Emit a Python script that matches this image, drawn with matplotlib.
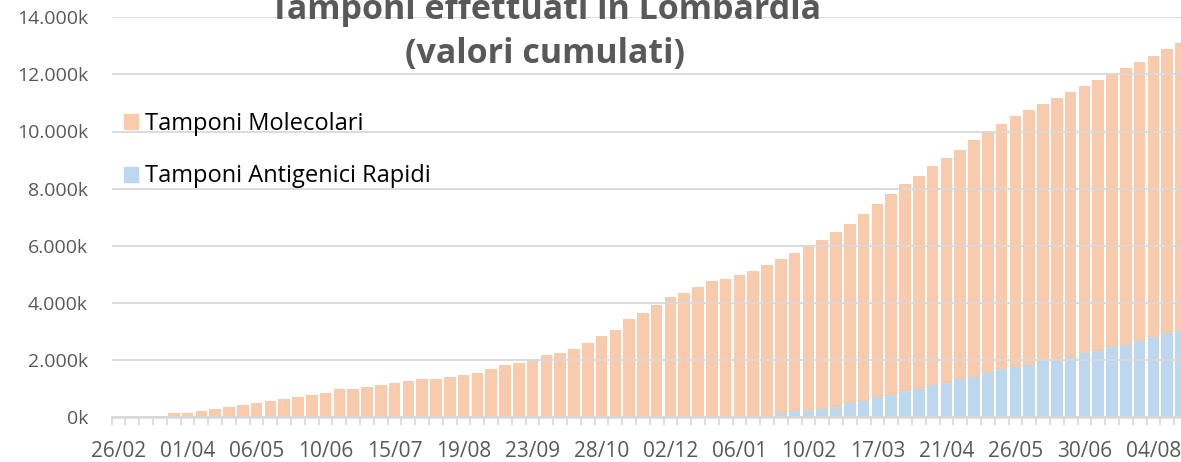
import matplotlib
matplotlib.use("Agg")
import matplotlib.pyplot as plt
from matplotlib.patches import Patch
from matplotlib.ticker import FuncFormatter, FixedLocator
import numpy as np
import pandas as pd

plt.rcParams['font.family'] = ['Open Sans', 'DejaVu Sans']

# weekly dates, 26/02/2020 -> 11/08/2021
date = pd.date_range("2020-02-26", periods=78, freq="7D").strftime("%d/%m").tolist()

# cumulative tests (thousands)
molecolari = [1, 3, 8, 20, 140, 150, 210, 280, 350, 420,
              490, 560, 630, 700, 770, 840, 980, 985, 1050, 1120,
              1190, 1260, 1330, 1335, 1400, 1470, 1540, 1680, 1820, 1890,
              2030, 2170, 2240, 2380, 2590, 2850, 3060, 3430, 3640, 3920,
              4190, 4330, 4540, 4750, 4820, 4960, 5100, 5310, 5380, 5520,
              5795, 5930, 6140, 6280, 6560, 6770, 7050, 7260, 7470, 7670,
              7880, 8030, 8310, 8450, 8590, 8800, 8940, 9010, 9150, 9290,
              9360, 9500, 9570, 9710, 9780, 9850, 9960, 10110]
antigenici = [0] * 48 + [140, 210, 215, 280, 350, 490, 560, 700, 770, 910,
                         980, 1120, 1190, 1320, 1390, 1530, 1670, 1740, 1810, 1950,
                         2020, 2090, 2230, 2300, 2440, 2510, 2650, 2790, 2930, 3000]

c_mol = "#F8CBAD"
c_ant = "#BDD7EE"
grid_c = "#D9D9D9"
txt_c = "#595959"

fig = plt.figure(figsize=(11.81, 4.62), dpi=100)
ax = fig.add_axes([111.7 / 1181, 45 / 462, 1 - 111.7 / 1181, (417 - 17.3) / 462])

x = np.arange(len(date))
ax.bar(x, antigenici, width=0.84, color=c_ant, linewidth=0)
ax.bar(x, molecolari, bottom=antigenici, width=0.84, color=c_mol, linewidth=0)

ax.set_ylim(0, 14000)
ax.set_xlim(-0.5, 77.0)
ax.set_yticks(np.arange(0, 14001, 2000))
ax.yaxis.set_major_formatter(FuncFormatter(lambda v, p: f"{int(v):,}".replace(",", ".") + "k"))
ax.grid(axis="y", color=grid_c, linewidth=1.3)
ax.set_axisbelow(False)

ax.set_xticks(x[::5])
ax.set_xticklabels(date[::5])
ax.xaxis.set_minor_locator(FixedLocator(np.arange(-0.5, 78, 1)))
ax.tick_params(axis="x", which="major", length=0, pad=17, labelsize=15, labelcolor=txt_c)
ax.tick_params(axis="x", which="minor", length=5.5, width=1.2, color=grid_c)
ax.tick_params(axis="y", length=0, pad=17, labelsize=14, labelcolor=txt_c)

for s in ["top", "right", "left"]:
    ax.spines[s].set_visible(False)
ax.spines["bottom"].set_color(grid_c)
ax.spines["bottom"].set_linewidth(1.8)
ax.spines["bottom"].set_zorder(3)

handles = [Patch(color=c_mol, label="Tamponi Molecolari"),
           Patch(color=c_ant, label="Tamponi Antigenici Rapidi")]
fig.legend(handles=handles, loc="upper left", bbox_to_anchor=(124 / 1181, 1 - 112 / 462),
           frameon=False, fontsize=17, handlelength=0.6, handleheight=0.6,
           handletextpad=0.3, labelspacing=1.2, borderpad=0, borderaxespad=0)

# first line is partly cropped at the top edge, as in the source image
fig.text(0.4615, 1 - 32 / 462, "Tamponi effettuati in Lombardia\n(valori cumulati)",
         ha="center", va="center", fontsize=24.5, fontweight="bold", color=txt_c,
         linespacing=1.4)

fig.savefig("out.png", dpi=100)
